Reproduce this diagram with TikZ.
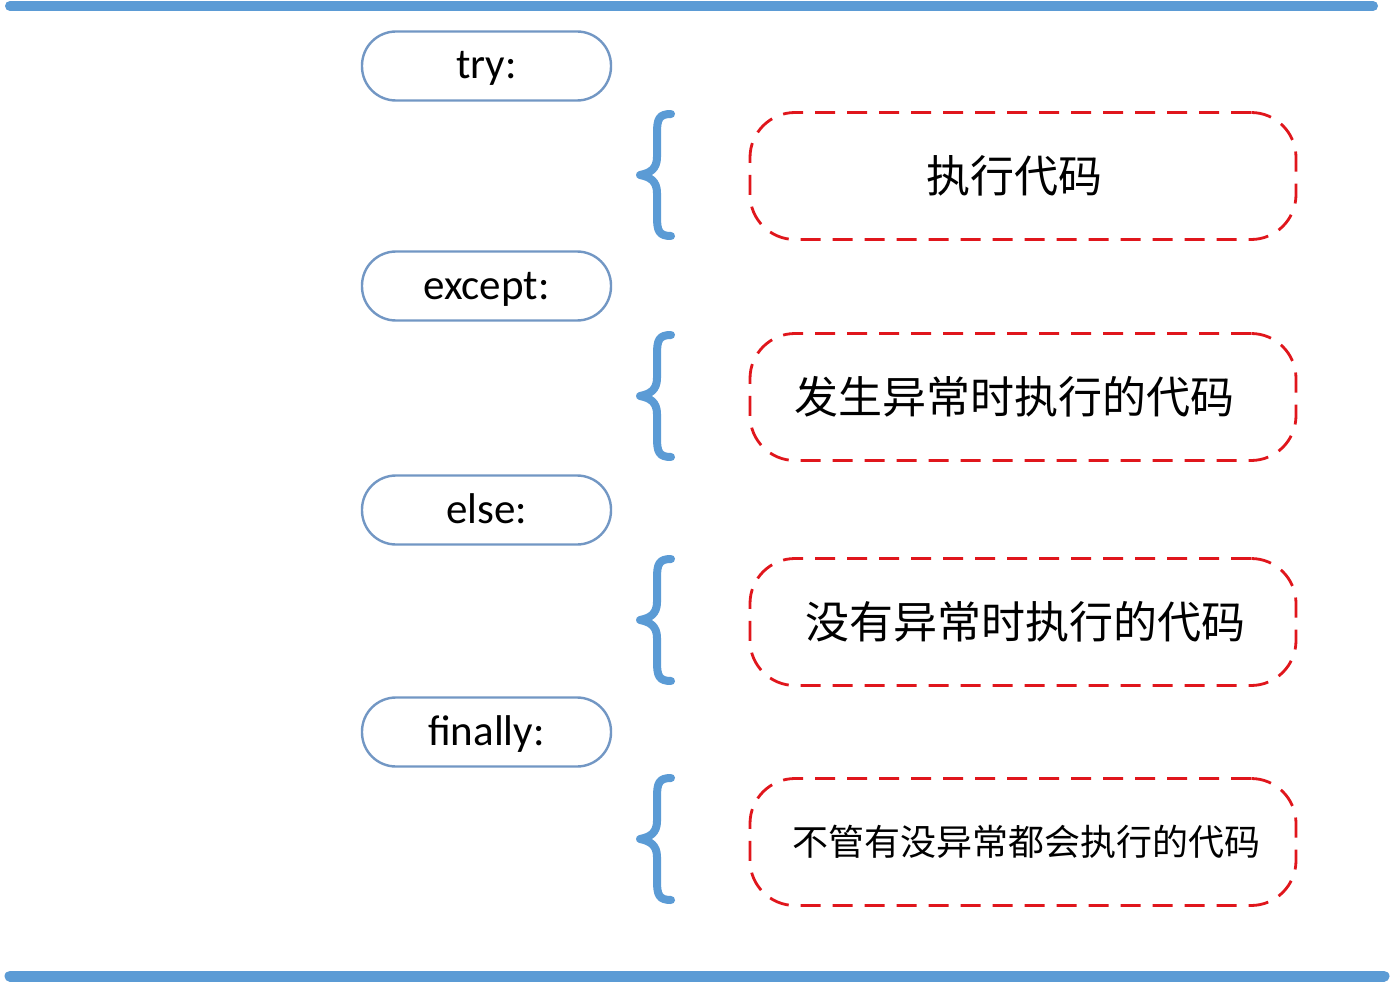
\documentclass[tikz,border=0pt]{standalone}
\usepackage{fontspec}
\setmainfont{Carlito}
\newfontfamily\cjk{Noto Sans CJK SC}
\definecolor{barblue}{HTML}{5B9BD5}
\definecolor{pillblue}{HTML}{7297C4}
\definecolor{dashred}{HTML}{E0161C}
\begin{document}
\begin{tikzpicture}[x=1pt,y=-1pt,
  pill/.style={draw=pillblue,line width=2.4pt,rounded corners=34pt,fill=white,
    minimum width=249pt,minimum height=69pt,inner sep=0pt,
    font=\fontsize{43}{43}\selectfont,text height=30pt,text depth=4pt},
  dbox/.style={draw=dashred,line width=2.8pt,rounded corners=45pt,
    dash pattern=on 20pt off 12pt,minimum width=546pt,minimum height=127pt,inner sep=0pt},
  cjktext/.style={font=\cjk\fontsize{44}{44}\selectfont},
  bar/.style={barblue,line width=10pt,line cap=round},
  bracestyle/.style={barblue,line width=8pt,line cap=round,line join=round}]
\useasboundingbox (0,0) rectangle (1394,1000);
\fill[white] (0,0) rectangle (1394,1000);
% bars
\coordinate (tl) at (10,6);
\coordinate (tr) at (1373,6);
\coordinate (bl) at (10,976);
\coordinate (br) at (1384,976);
\draw[bar] (tl) -- (tr);
\draw[bar,line width=11pt] (bl) -- (br);
% pills
\node[pill] (try) at (486.5,66) {try:};
\node[pill] (except) at (486.5,286) {except:};
\node[pill] (else) at (486.5,510) {else:};
\node[pill] (finally) at (486.5,732) {finally:};
% dashed boxes
\node[dbox,cjktext] (b1) at (1023,176) {\hspace*{-18pt}执行代码};
\node[dbox,cjktext] (b2) at (1023,397) {\hspace*{-18pt}发生异常时执行的代码};
\node[dbox,cjktext] (b3) at (1023,622) {\hspace*{5pt}没有异常时执行的代码};
\node[dbox,font=\cjk\fontsize{36}{36}\selectfont] (b4) at (1023,842) {\hspace*{7pt}不管有没异常都会执行的代码};
% braces
\foreach \yc in {175,396,620,839}{
  \draw[bracestyle] (671,\yc-61) .. controls (659,\yc-61) and (657,\yc-56) .. (657,\yc-42)
    -- (657,\yc-18) .. controls (657,\yc-6) and (650,\yc-2) .. (640,\yc)
    .. controls (650,\yc+2) and (657,\yc+6) .. (657,\yc+18)
    -- (657,\yc+42) .. controls (657,\yc+56) and (659,\yc+61) .. (671,\yc+61);
}
\end{tikzpicture}
\end{document}
